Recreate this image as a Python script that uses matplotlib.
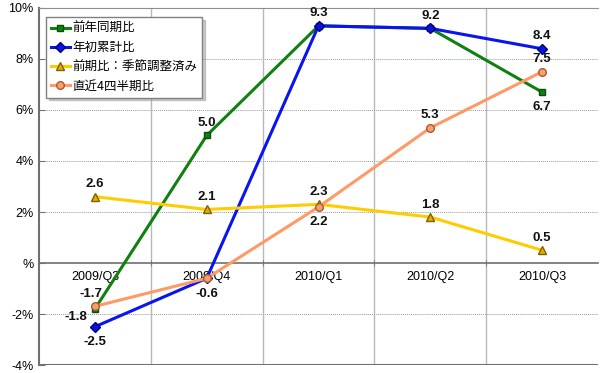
import matplotlib
matplotlib.use('Agg')
import matplotlib.pyplot as plt
import numpy as np

# data
quarters = ['2009/Q3', '2009/Q4', '2010/Q1', '2010/Q2', '2010/Q3']
yoy = [-1.8, 5.0, 9.3, 9.2, 6.7]          # 前年同期比
ytd = [-2.5, -0.6, 9.3, 9.2, 8.4]         # 年初累計比
qoq_sa = [2.6, 2.1, 2.3, 1.8, 0.5]        # 前期比：季節調整済み
last4q = [-1.7, -0.6, 2.2, 5.3, 7.5]      # 直近4四半期比
names = ['前年同期比', '年初累計比', '前期比：季節調整済み', '直近4四半期比']

plt.rcParams['font.family'] = ['Liberation Sans', 'DejaVu Sans']
jp_font = ['Noto Sans CJK JP', 'DejaVu Sans']

fig = plt.figure(figsize=(6, 3.73), dpi=100)
ax = fig.add_axes([0.065, 0.0214, 0.9317, 0.9572])

x = np.arange(len(quarters))

styles = [
    dict(color='#108010', marker='s', mfc='#108010', mec='#0a500a', ms=5),
    dict(color='#0a14f0', marker='D', mfc='#0a14e0', mec='#000080', ms=5),
    dict(color='#ffcc00', marker='^', mfc='#e0b000', mec='#806000', ms=6),
    dict(color='#ff9966', marker='o', mfc='#f4a070', mec='#b05a2a', ms=5.5),
]
series = [yoy, ytd, qoq_sa, last4q]

# label offsets in points (None = label hidden, overlaps another series)
offsets = [
    [(-14, -6), (0, 9), None, None, (0, -11)],
    [(0, -11), (0, -11), (0, 9), (0, 9), (0, 9)],
    [(0, 9), (0, 9), (0, 9), (0, 9), (0, 9)],
    [(-3, 9), None, (0, -11), (0, 9), (0, 9)],
]

for vals, st, name in zip(series, styles, names):
    ax.plot(x, vals, lw=2.2, label=name, zorder=3, **st)

for vals, offs in zip(series, offsets):
    for xi, v, off in zip(x, vals, offs):
        if off is None:
            continue
        ax.annotate(f'{v:.1f}', (xi, v), xytext=off, textcoords='offset points',
                    ha='center', va='center', fontsize=9.5, fontweight='bold',
                    color='#111111', zorder=5)

ax.set_xlim(-0.5, 4.5)
ax.set_ylim(-4, 10)
ax.set_yticks(np.arange(-4, 11, 2))
ax.set_yticklabels([f'{t}%' if t != 0 else '%' for t in range(-4, 11, 2)])

# gridlines
for t in [-2, 2, 4, 6, 8]:
    ax.axhline(t, color='#999999', lw=0.7, ls=(0, (1, 1)), zorder=1)
for b in np.arange(0.5, 4.5, 1):
    ax.axvline(b, color='#b8b8b8', lw=1, zorder=1)
ax.axhline(-4, color='#707070', lw=1.5, zorder=2)

ax.spines['bottom'].set_position(('data', 0))
ax.spines['bottom'].set_color('#707070')
ax.spines['bottom'].set_linewidth(1.2)
ax.spines['left'].set_color('#707070')
ax.spines['left'].set_linewidth(1.5)
ax.spines['top'].set_color('#909090')
ax.spines['right'].set_visible(False)

ax.set_xticks(x)
ax.set_xticklabels(quarters, fontsize=9)
ax.set_xticks(np.arange(0.5, 4.5, 1), minor=True)
ax.tick_params(axis='x', which='major', length=0, pad=6)
ax.tick_params(axis='x', which='minor', length=4, direction='inout', color='#707070')
ax.tick_params(axis='y', length=4, direction='in', color='#707070', labelsize=9, pad=4)

leg = ax.legend(loc='upper left', bbox_to_anchor=(0.0125, 0.975), borderaxespad=0,
                prop={'family': jp_font, 'size': 9},
                frameon=True, fancybox=False, shadow={'ox': 2, 'oy': -2, 'color': '#999999'},
                edgecolor='#808080', framealpha=1,
                handlelength=1.5, handletextpad=0.2, labelspacing=0.5, borderpad=0.4)
leg.get_frame().set_linewidth(1)

fig.savefig('out.png', dpi=100)
